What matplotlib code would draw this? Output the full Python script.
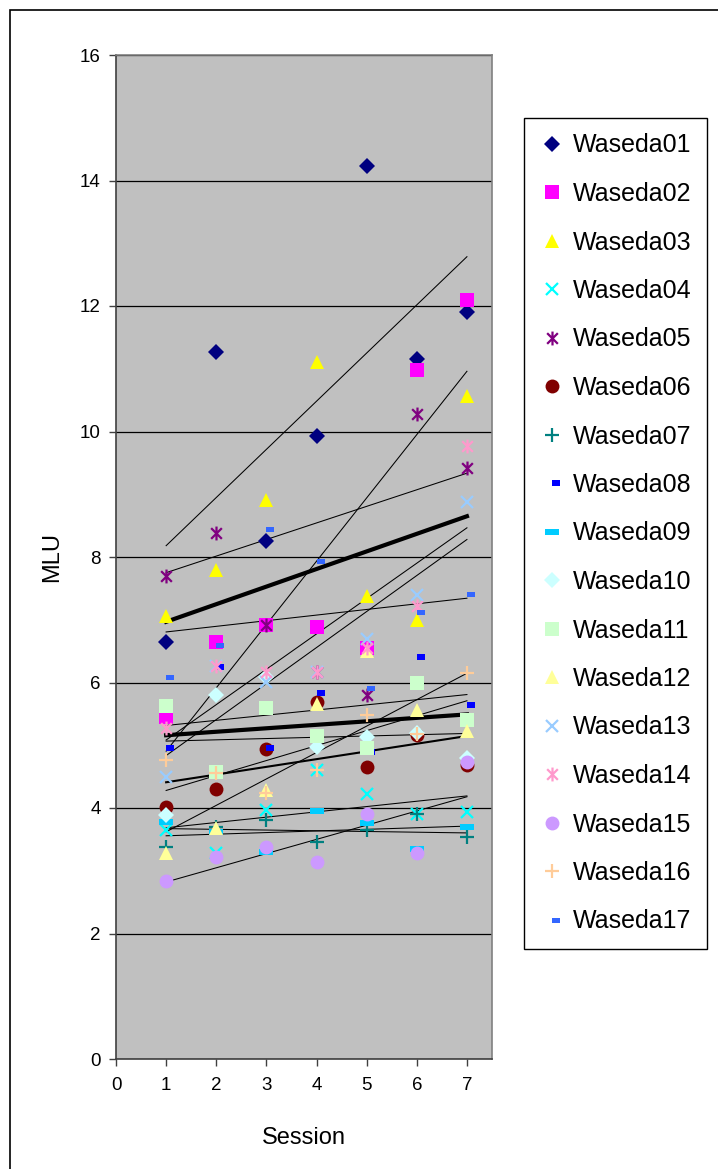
import numpy as np
import matplotlib
matplotlib.use("Agg")
import matplotlib.pyplot as plt
from matplotlib.path import Path
from matplotlib.patches import Rectangle

plt.rcParams['font.family'] = ['Liberation Sans', 'DejaVu Sans']

# session numbers and MLU per learner
sessions = [1, 2, 3, 4, 5, 6, 7]
names = ["Waseda%02d" % i for i in range(1, 18)]
w01 = [6.65, 11.27, 8.25, 9.93, 14.23, 11.15, 11.90]
w02 = [5.45, 6.65, 6.91, 6.89, 6.55, 10.98, 12.10]
w03 = [7.06, 7.79, 8.91, 11.10, 7.38, 6.99, 10.57]
w04 = [3.65, 3.28, 3.97, 4.60, 4.23, 3.90, 3.94]
w05 = [7.70, 8.38, 6.91, 6.17, 5.80, 10.28, 9.42]
w06 = [4.02, 4.30, 4.94, 5.69, 4.65, 5.16, 4.69]
w07 = [3.38, 3.70, 3.81, 3.46, 3.65, 3.90, 3.54]
w08 = [4.96, 6.24, 4.96, 5.83, 4.90, 6.40, 5.64]
w09 = [3.78, 3.62, 3.30, 3.95, 3.76, 3.35, 3.70]
w10 = [3.89, 5.80, 6.09, 4.98, 5.13, 5.20, 4.80]
w11 = [5.62, 4.58, 5.59, 5.14, 4.95, 5.99, 5.41]
w12 = [3.28, 3.68, 4.29, 5.66, 6.50, 5.56, 5.22]
w13 = [4.49, 6.27, 6.01, 6.17, 6.70, 7.39, 8.87]
w14 = [5.27, 6.27, 6.17, 6.17, 6.55, 7.22, 9.77]
w15 = [2.84, 3.22, 3.38, 3.14, 3.90, 3.28, 4.74]
w16 = [4.76, 4.55, 4.24, 4.60, 5.48, 5.18, 6.15]
w17 = [6.09, 6.59, 8.45, 7.93, 5.92, 7.13, 7.41]
series = [w01, w02, w03, w04, w05, w06, w07, w08, w09, w10,
          w11, w12, w13, w14, w15, w16, w17]

# excel-like markers
star = Path([(-1, -1), (1, 1), (-1, 1), (1, -1), (0, -1.3), (0, 1.3)],
            [Path.MOVETO, Path.LINETO, Path.MOVETO, Path.LINETO, Path.MOVETO, Path.LINETO])

def rect_marker(x0, x1, h):
    return Path([(x0, -h), (x1, -h), (x1, h), (x0, h), (x0, -h)],
                [Path.MOVETO, Path.LINETO, Path.LINETO, Path.LINETO, Path.CLOSEPOLY])

shortdash = rect_marker(0, 1, 0.33)
longdash = rect_marker(-1, 1, 0.38)
shortdash2 = rect_marker(0, 1, 0.3)

styles = [
    ('D', '#000080', 8, 0), ('s', '#FF00FF', 9.5, 0), ('^', '#FFFF00', 10.5, 0),
    ('x', '#00FFFF', 9, 1.6), (star, '#800080', 10, 1.6), ('o', '#800000', 10, 0),
    ('+', '#008080', 10, 1.6), (shortdash, '#0000FF', 11, 0), (longdash, '#00CCFF', 9.5, 0),
    ('D', '#CCFFFF', 8, 0), ('s', '#CCFFCC', 9.5, 0), ('^', '#FFFF99', 10.5, 0),
    ('x', '#99CCFF', 9, 1.6), (star, '#FF99CC', 10, 1.6), ('o', '#CC99FF', 10, 0),
    ('+', '#FFCC99', 10, 1.6), (shortdash2, '#3366FF', 12, 0),
]
trend_width = [0.75] * 17
trend_width[4] = 3.0   # Waseda05
trend_width[10] = 3.0  # Waseda11
trend_width[5] = 1.5   # Waseda06

fig = plt.figure(figsize=(7.18, 11.69), dpi=100)
ax = fig.add_axes([116 / 718, 1 - 1059 / 1169, 376 / 718, 1004 / 1169])
ax.set_facecolor('#C0C0C0')

x = np.array(sessions)
for ys, lw in zip(series, trend_width):
    ys = np.array(ys)
    k, b = np.polyfit(x, ys, 1)
    ax.plot([x[0], x[-1]], [k * x[0] + b, k * x[-1] + b], color='black', lw=lw, zorder=3)

for ys, name, (m, c, ms, mew) in zip(series, names, styles):
    ax.plot(x, ys, linestyle='none', marker=m, color=c, markersize=ms,
            markeredgewidth=mew, label=name, zorder=4)

ax.set_xlim(0, 7.5)
ax.set_ylim(0, 16)
ax.set_xticks(range(0, 8))
ax.set_yticks(range(0, 17, 2))
ax.yaxis.grid(True, color='black', linewidth=0.9)
ax.set_axisbelow(True)
ax.tick_params(labelsize=13.5, direction='out', length=5, color='#404040', width=1)
ax.tick_params(axis='y', pad=6)
ax.tick_params(axis='x', pad=8)
for s in ax.spines.values():
    s.set_color('#808080')
    s.set_linewidth(1.2)
ax.spines['left'].set_color('#404040')
ax.spines['bottom'].set_color('#404040')

ax.set_ylabel('MLU', fontsize=17, labelpad=12)
ax.set_xlabel('Session', fontsize=17, labelpad=24)

leg = ax.legend(loc='upper left', bbox_to_anchor=(524 / 718, 1 - 118 / 1169),
                bbox_transform=fig.transFigure, fontsize=18, frameon=True,
                fancybox=False, edgecolor='black', framealpha=1,
                labelspacing=0.98, handlelength=1.0, handletextpad=0.35,
                borderpad=0.62, borderaxespad=0)
leg.get_frame().set_linewidth(1.0)

fig.patches.append(Rectangle((10 / 718, -0.01), 0.999, 1 - 10 / 1169 + 0.01,
                             transform=fig.transFigure, fill=False,
                             edgecolor='black', linewidth=1.2))

fig.savefig('out.png', dpi=100)
